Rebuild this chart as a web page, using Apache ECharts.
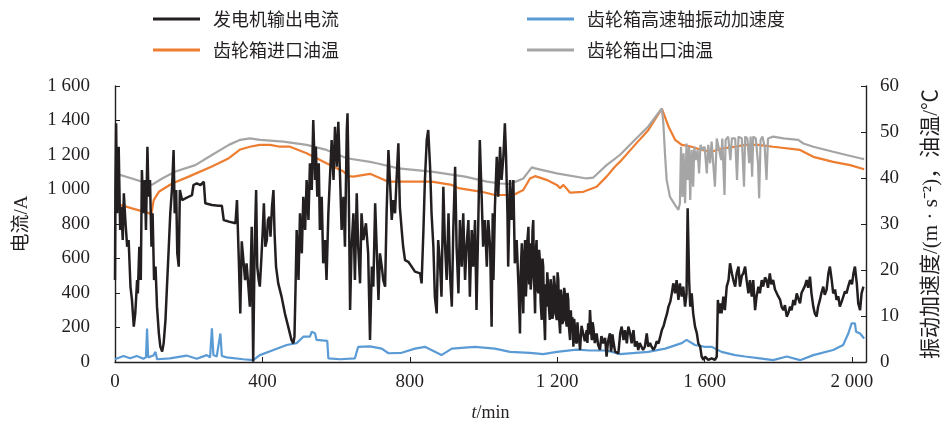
<!DOCTYPE html>
<html>
<head>
<meta charset="utf-8">
<script src="https://cdn.jsdelivr.net/npm/echarts@6/dist/echarts.min.js"></script>
<style>html,body{margin:0;padding:0;background:#fff;}#c{width:943px;height:428px;}</style>
</head>
<body>
<div id="c"></div>
<script>
// ---- data (t in min) ----
var seriesNames = ['发电机输出电流', '齿轮箱高速轴振动加速度', '齿轮箱进口油温', '齿轮箱出口油温'];
var xTickValues = [0, 400, 800, 1200, 1600, 2000];

var currentA = [
[0,475],[1,978],[3,1384],[6,862],[10,1248],[14,765],[17,900],[21,707],[24,978],[28,823],[33,668],[37,707],[42,437],[46,360],[51,205],[55,282],[60,475],[62,398],[66,668],[70,475],[73,1113],[77,862],[81,1055],[84,765],[88,1248],[91,958],[95,1055],[99,668],[102,862],[106,475],[110,553],[114,321],[119,166],[123,89],[128,60],[132,108],[137,244],[141,437],[146,668],[150,862],[155,1016],[159,1229],[162,862],[166,997],[169,630],[173,553],[176,997],[182,939],[191,948],[200,958],[209,968],[213,1026],[222,1036],[232,1026],[241,1045],[245,920],[263,910],[281,906],[290,906],[295,823],[309,814],[327,804],[331,939],[336,591],[340,282],
[344,700],[348,707],[353,475],[357,572],[362,437],[366,321],[371,784],[375,2],[379,668],[383,997],[386,553],[390,475],[393,437],[397,591],[401,765],[404,920],[408,668],[412,707],[415,823],[419,842],[422,726],[426,900],[430,997],[433,746],[437,553],[443,456],[452,379],[461,282],[470,205],[479,127],[484,108],[487,147],[490,437],[493,765],[498,475],[502,862],[507,630],[511,958],[516,765],[520,1055],[525,823],[529,1152],[534,997],[538,1403],[543,1055],[545,1248],[549,958],[553,1152],[556,765],[561,958],[565,572],[570,707],[574,475],[579,862],[583,1055],[588,1287],[593,1055],[597,1364],[602,1132],[606,1393],[611,1055],[615,765],[620,958],[624,668],[629,1345],[631,1442],[634,1055],[638,301],[642,668],[647,862],[651,475],[656,978],[660,668],[665,456],[669,862],[674,707],[681,804],
[687,630],[692,127],[697,553],[701,437],[706,920],[710,668],[715,360],[719,630],[724,553],[728,475],[733,437],[737,862],[742,1229],[746,1055],[751,823],[755,939],[760,862],[764,1055],[769,1268],[773,900],[778,765],[782,668],[787,591],[796,581],[805,553],[814,524],[828,514],[832,456],[837,765],[841,1055],[846,1287],[850,1345],[855,1132],[859,862],[864,668],[868,379],[873,282],[877,707],[882,572],[886,379],[891,1016],[895,707],[900,475],[905,862],[909,514],[914,321],[918,765],[923,1132],[927,668],[932,398],[936,823],[941,553],[945,862],[950,475],[954,668],[959,823],[963,379],[968,765],[972,553],[977,823],[981,301],[986,823],[990,1287],[995,958],[999,668],[1004,823],[1009,553],[1013,823],[1018,668],[1022,205],
[1025,862],[1027,475],[1031,900],[1036,1190],[1040,958],[1045,1248],[1049,1055],[1054,1190],[1058,1384],[1061,1209],[1065,862],[1067,553],[1072,1055],[1076,823],[1081,1055],[1085,572],[1090,707],[1095,437],
[1099,166],[1101,520],[1104,688],[1106,400],[1108,282],[1110,600],[1113,707],[1115,380],[1117,475],[1119,700],[1122,784],[1124,450],[1126,688],[1128,420],[1131,514],[1133,760],[1135,823],[1137,500],[1140,282],[1142,640],[1144,707],[1146,430],[1149,398],[1151,650],[1153,591],[1155,350],[1158,244],[1160,600],[1162,553],[1164,300],[1167,127],[1169,450],[1171,321],[1173,520],[1176,418],[1178,300],[1180,244],[1182,480],[1185,418],[1187,250],[1189,282],[1191,500],[1194,437],[1196,280],[1199,244],[1201,520],[1203,475],[1205,260],[1208,166],[1210,420],[1212,379],[1214,220],[1217,244],[1219,430],[1221,398],[1223,250],[1226,205],[1228,400],[1230,360],[1232,200],[1235,127],[1237,300],[1239,205],[1241,260],[1244,89],[1246,250],[1248,205],[1250,120],[1253,108],[1255,230],[1257,166],[1260,120],[1262,70],[1266,210],[1271,205],[1275,120],[1280,185],[1282,110],[1284,224],[1287,160],[1289,301],[1292,180],[1294,127],[1296,230],[1298,205],[1302,110],[1307,166],[1311,100],[1316,70],[1320,150],[1325,108],[1330,140],[1334,31],[1338,120],[1343,166],[1346,60],[1348,89],[1350,160],[1352,127],[1357,60],[1361,70],
[1366,50],[1371,166],[1375,205],[1380,127],[1384,185],[1389,108],[1393,205],[1398,166],[1402,108],[1407,185],[1411,89],[1416,120],[1420,70],[1424,110],[1429,108],[1433,70],[1438,89],[1443,166],[1447,89],[1452,110],[1456,89],[1461,70],[1466,89],[1470,120],[1475,108],[1480,150],[1484,185],[1489,210],[1493,244],[1498,280],[1502,321],[1507,350],[1511,398],[1515,456],[1520,398],[1524,475],[1529,360],[1533,456],[1538,379],[1542,437],[1547,321],[1551,398],[1554,891],[1558,475],[1561,321],[1565,398],[1569,282],[1574,205],[1579,166],[1583,108],[1588,89],[1592,31],[1597,12],[1601,31],[1610,12],[1619,21],[1628,12],[1633,31],[1636,360],[1639,282],[1643,340],[1646,282],[1651,379],[1655,301],[1660,437],[1665,475],[1669,572],[1674,514],[1678,475],[1683,437],[1687,514],[1692,553],[1696,437],
[1701,500],[1705,514],[1710,553],[1714,475],[1719,398],[1723,475],[1728,379],[1732,475],[1737,301],[1741,379],[1746,437],[1750,398],[1755,475],[1759,437],[1764,490],[1768,475],[1772,430],[1777,514],[1781,450],[1786,475],[1791,420],[1796,418],[1800,380],[1805,360],[1809,320],[1814,301],[1818,330],[1823,263],[1827,282],[1832,321],[1836,300],[1841,360],[1845,330],[1850,398],[1854,370],[1859,340],[1863,400],[1868,398],[1872,440],[1877,475],[1881,430],[1886,495],[1890,398],[1895,321],[1899,282],[1904,263],[1908,320],[1913,360],[1917,400],[1922,437],[1926,390],[1931,418],[1936,514],[1940,553],[1945,475],[1949,398],[1954,420],[1958,360],[1963,380],[1967,321],[1972,350],[1976,360],[1981,410],[1985,398],[1990,440],[1995,475],[2000,450],[2004,514],[2008,553],[2013,456],[2017,340],[2022,301],[2026,398],[2031,437]
];

var vibration = [
[0,0.6],[23,1.3],[41,0.8],[59,1.3],[77,0.7],[84,1.0],[87,7.3],[90,1.0],[104,1.4],[110,2.2],[114,0.6],[149,0.8],[194,1.4],[222,0.7],[249,1.5],[258,1.0],[263,7.3],[267,1.5],[276,1.2],[286,6.2],[290,1.3],[303,1.0],[348,0.6],[375,0.4],[393,1.5],[430,2.6],[466,3.7],[493,4.1],[511,5.5],[529,5.5],[534,6.6],[543,6.2],[547,4.8],[576,4.6],[579,0.8],[611,0.6],[651,0.8],[660,3.3],[692,3.4],[724,2.9],[742,1.9],[778,2.0],[814,2.9],[841,3.3],[886,1.5],[914,2.9],[977,3.3],[1031,2.9],[1072,2.2],[1126,2.0],[1162,1.7],[1199,2.2],[1253,2.7],[1289,2.5],[1334,2.5],[1370,1.7],[1447,2.2],[1493,2.9],[1538,4.1],[1551,4.8],[1574,3.7],[1601,3.3],[1619,3.3],[1646,2.2],[1683,1.5],[1710,1.2],[1750,0.8],[1786,0.4],[1823,1.2],[1859,0.4],[1895,1.5],[1949,2.6],[1976,3.7],[1990,6.2],[1999,8.4],[2008,8.4],[2011,6.6],[2022,6.2],[2033,5.1]
];

var inletOil = [
[0,34.5],[46,33.4],[99,32.2],[105,35.2],[119,37.0],[155,38.8],[200,40.3],[263,42.5],[309,44.3],[340,46.2],[366,46.8],[393,47.2],[421,47.2],[448,46.8],[475,46.8],[520,45.4],[574,43.2],[620,41.4],[633,40.4],[647,40.3],[692,40.9],[742,39.2],[859,39.2],[914,38.5],[932,37.8],[995,37.0],[1031,36.3],[1081,36.3],[1108,37.4],[1126,39.9],[1140,40.4],[1171,39.6],[1199,38.5],[1208,37.8],[1217,38.5],[1235,36.8],[1271,37.0],[1307,38.1],[1334,40.3],[1357,42.5],[1370,43.5],[1411,47.2],[1447,50.4],[1484,55.1],[1502,51.2],[1520,48.3],[1538,47.2],[1565,46.8],[1592,46.1],[1619,45.7],[1646,46.4],[1683,46.8],[1710,47.2],[1746,47.2],[1786,46.8],[1859,46.1],[1895,44.6],[1949,43.5],[1995,42.8],[2033,41.9]
];

var outletOil = [
[0,41.0],[46,39.9],[100,38.5],[128,39.9],[164,41.4],[218,42.8],[263,45.0],[309,47.2],[340,48.3],[366,48.6],[394,48.3],[457,47.9],[520,47.2],[574,46.1],[629,44.3],[692,43.5],[710,43.2],[769,42.1],[859,41.4],[950,40.3],[1009,39.2],[1045,38.8],[1072,38.7],[1108,39.9],[1131,42.3],[1140,42.1],[1199,41.0],[1280,39.9],[1298,40.1],[1334,42.8],[1370,45.0],[1411,48.3],[1447,51.2],[1484,55.1],[1488,51.9],[1493,44.6],[1497,39.6],[1506,35.9],[1520,34.1],[1529,33.1],[1533,34.5],[1536,46.8],[1540,35.9],[1543,45.4],[1547,34.5],[1551,47.5],[1554,39.6],[1558,46.8],[1561,35.2],[1565,46.1],[1569,38.1],[1572,46.8],[1576,43.9],[1581,46.1],[1585,41.0],[1589,47.2],[1594,46.1],[1600,46.8],[1606,41.0],[1610,47.2],[1615,43.2],[1619,47.9],[1628,38.1],[1633,48.6],[1638,48.3],[1645,43.9],[1648,48.6],[1654,36.3],[1657,48.3],[1664,49.0],[1670,43.9],[1674,48.6],[1683,48.6],[1688,39.6],[1692,49.0],[1701,48.6],[1707,38.1],[1710,49.0],[1716,48.6],[1721,43.2],[1725,49.0],[1729,40.3],[1732,49.0],[1739,48.6],[1745,43.2],[1748,35.6],[1752,48.3],[1757,49.0],[1763,46.8],[1768,39.6],[1772,48.6],[1786,49.0],[1814,48.6],[1854,48.3],[1868,47.5],[1895,46.8],[1949,45.7],[1985,45.0],[2022,44.3],[2033,44.1]
];

// ---- chart ----
var colors = ['#231f20', '#5b9bd5', '#ed7d31', '#a5a5a5'];
var serif = '"Liberation Serif","Noto Sans CJK SC",serif';
var cjk = '"Noto Sans CJK SC","Liberation Serif",sans-serif';
function thou(v){ return String(v).replace(/\B(?=(\d{3})+(?!\d))/g, ' '); }

function legendAt(i, left, top){
  return {
    data: [seriesNames[i]], left: left, top: top, orient: 'horizontal',
    icon: 'rect', itemWidth: 47, itemHeight: 3, selectedMode: false,
    textStyle: { fontFamily: cjk, fontSize: 18, color: '#231f20', padding: [0,0,0,8] }
  };
}

var chart = echarts.init(document.getElementById('c'), null, { renderer: 'canvas' });
chart.setOption({
  animation: false,
  backgroundColor: '#fff',
  color: colors,
  legend: [legendAt(0, 148, 5), legendAt(1, 522, 5), legendAt(2, 148, 36), legendAt(3, 522, 36)],
  grid: { left: 115, right: 77, top: 86, bottom: 66, containLabel: false, outerBoundsMode: 'none' },
  xAxis: {
    type: 'value', min: 0, max: 2038,
    name: '{i|t}/min', nameLocation: 'middle', nameGap: 42,
    nameTextStyle: { fontFamily: serif, fontSize: 18, color: '#231f20',
      rich: { i: { fontFamily: serif, fontSize: 18, fontStyle: 'italic', color: '#231f20' } } },
    axisLine: { lineStyle: { color: '#231f20', width: 1.4 } },
    axisTick: { inside: true, length: 5, customValues: xTickValues, lineStyle: { color: '#231f20' } },
    axisLabel: { customValues: xTickValues, formatter: thou, fontFamily: serif, fontSize: 19, color: '#231f20', margin: 11 },
    splitLine: { show: false }
  },
  yAxis: [{
    type: 'value', min: 0, max: 1600, interval: 200,
    name: '电流/A', nameLocation: 'middle', nameRotate: 90, nameGap: 83,
    nameTextStyle: { fontFamily: serif, fontSize: 19, color: '#231f20' },
    axisLine: { show: true, lineStyle: { color: '#231f20', width: 1.4 } },
    axisTick: { show: true, inside: true, length: 5, lineStyle: { color: '#231f20' } },
    axisLabel: { formatter: thou, fontFamily: serif, fontSize: 19, color: '#231f20', margin: 25 },
    splitLine: { show: false }
  }, {
    type: 'value', min: 0, max: 60, interval: 10, position: 'right',
    name: '振动加速度/(m · s⁻²)，油温/℃', nameLocation: 'middle', nameRotate: 90, nameGap: 55,
    nameTextStyle: { fontFamily: serif, fontSize: 21, color: '#231f20' },
    axisLine: { show: true, lineStyle: { color: '#231f20', width: 1.4 } },
    axisTick: { show: true, inside: true, length: 5, lineStyle: { color: '#231f20' } },
    axisLabel: { fontFamily: serif, fontSize: 19, color: '#231f20', margin: 14 },
    splitLine: { show: false }
  }],
  series: [
    { name: seriesNames[2], type: 'line', yAxisIndex: 1, data: inletOil, showSymbol: false, z: 2,
      lineStyle: { color: colors[2], width: 2.2 }, itemStyle: { color: colors[2] } },
    { name: seriesNames[3], type: 'line', yAxisIndex: 1, data: outletOil, showSymbol: false, z: 3,
      lineStyle: { color: colors[3], width: 2.2 }, itemStyle: { color: colors[3] } },
    { name: seriesNames[1], type: 'line', yAxisIndex: 1, data: vibration, showSymbol: false, z: 4,
      lineStyle: { color: colors[1], width: 2.2 }, itemStyle: { color: colors[1] } },
    { name: seriesNames[0], type: 'line', yAxisIndex: 0, data: currentA, showSymbol: false, z: 5,
      lineStyle: { color: colors[0], width: 2.5 }, itemStyle: { color: colors[0] } }
  ]
});
</script>
</body>
</html>
